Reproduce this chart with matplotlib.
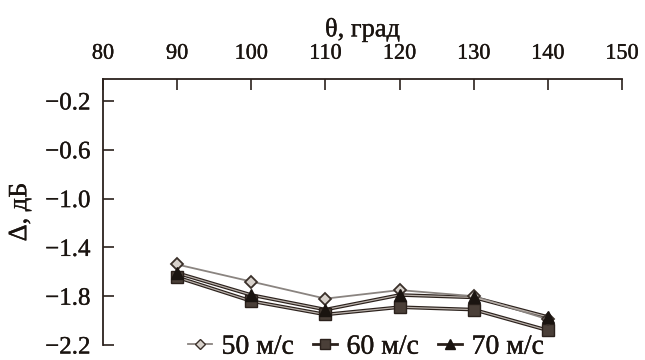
import matplotlib
matplotlib.use("Agg")
import matplotlib.pyplot as plt
from matplotlib.lines import Line2D
import matplotlib.patheffects as pe

angles = [90, 100, 110, 120, 130, 140]
v50 = [-1.54, -1.68, -1.82, -1.75, -1.80, -1.99]
v60 = [-1.645, -1.84, -1.95, -1.89, -1.91, -2.08]
v70 = [-1.61, -1.79, -1.91, -1.79, -1.81, -1.97]
xticks = [80, 90, 100, 110, 120, 130, 140, 150]
yticks = [-0.2, -0.6, -1.0, -1.4, -1.8, -2.2]

plt.rcParams['font.family'] = ['Liberation Serif', 'DejaVu Serif']
plt.rcParams['font.size'] = 16

dark = '#2b211c'
txt = '#1a1410'
heavy = [pe.withStroke(linewidth=0.25, foreground=txt)]
fig = plt.figure(figsize=(6.45, 3.6), dpi=100)
ax = fig.add_axes([103/645, 1-345/360, (622-103)/645, (345-79)/360])

# 70 m/s (dark double line, black triangles)
ax.plot(angles, v70, color=dark, lw=2.6, zorder=2)
ax.plot(angles, v70, color='#b8b0aa', lw=0.9, zorder=2.1)
ax.plot(angles, v70, ls='none', marker='^', ms=8.5, mfc='#1a1410', mec='#1a1410', zorder=4)
# 60 m/s (dark double line, squares)
ax.plot(angles, v60, color=dark, lw=2.6, zorder=2)
ax.plot(angles, v60, color='#b8b0aa', lw=0.9, zorder=2.1)
ax.plot(angles, v60, ls='none', marker='s', ms=8, mfc='#4a3f38', mec=dark, zorder=3.5)
# 50 m/s (gray line, open diamonds)
ax.plot(angles, v50, color='#8a8480', lw=1.3, zorder=2)
ax.plot(angles, v50, ls='none', marker='D', ms=6, mfc='#d8d2cc', mec='#3a302a', mew=1.3, zorder=3.8)

ax.set_xlim(80, 150)
ax.set_ylim(-2.2, -0.02)
ax.xaxis.tick_top()
ax.xaxis.set_label_position('top')
ax.set_xticks(xticks)
ax.set_yticks(yticks)
ax.set_yticklabels([f"{t:.1f}".replace('-', '\u2212') for t in yticks], fontsize=18)
ax.set_xlabel('θ, град', labelpad=6, fontsize=19, color=txt, path_effects=heavy)
ax.set_ylabel('Δ, дБ', labelpad=10, fontsize=19, color=txt, path_effects=heavy)
for s in ['right', 'bottom']:
    ax.spines[s].set_visible(False)
for s in ['left', 'top']:
    ax.spines[s].set_color(dark)
    ax.spines[s].set_linewidth(1.3)
ax.tick_params(axis='both', direction='in', length=8, width=1.2, color=dark, labelcolor=txt)
ax.tick_params(axis='x', pad=11)
ax.tick_params(axis='y', pad=9)
for lab in ax.get_xticklabels() + ax.get_yticklabels():
    lab.set_path_effects(heavy)

# legend proxies
h50 = Line2D([], [], color='#8a8480', lw=1.3, marker='D', ms=5, mfc='#d8d2cc', mec='#3a302a')
h60 = Line2D([], [], color=dark, lw=2.0, marker='s', ms=6.5, mfc='#4a3f38', mec=dark)
h70 = Line2D([], [], color=dark, lw=2.0, marker='^', ms=7, mfc='#1a1410', mec='#1a1410')
leg = fig.legend([h50, h60, h70], ['50 м/с', '60 м/с', '70 м/с'], loc='center',
           bbox_to_anchor=(366/645, 1-347/360), ncol=3, frameon=False,
           handlelength=0.85, handletextpad=0.35, columnspacing=0.7, fontsize=20,
           borderaxespad=0, borderpad=0, labelcolor=txt)
for t in leg.get_texts():
    t.set_path_effects(heavy)

fig.savefig('out.png', dpi=100)
